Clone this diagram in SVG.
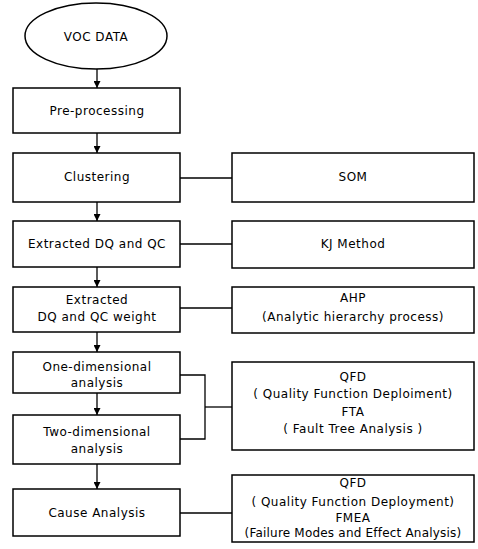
<svg xmlns="http://www.w3.org/2000/svg" width="478" height="549" viewBox="0 0 478 549">
<style>
.box{fill:#fff;stroke:#000;stroke-width:1.5}
.ln{fill:none;stroke:#000;stroke-width:1.3}
text{font-family:"DejaVu Sans","Liberation Sans",sans-serif;font-size:12px;fill:#000;text-anchor:middle;letter-spacing:0.5px}
text.tight{letter-spacing:0.2px}
</style>
<defs>
<marker id="ah" viewBox="0 0 10 10" refX="10" refY="5" markerWidth="7" markerHeight="7" orient="auto" markerUnits="userSpaceOnUse">
<path d="M0,0 L10,5 L0,10 Z" fill="#000"/>
</marker>
</defs>
<rect width="478" height="549" fill="#fff"/>
<g id="connectors">
<line class="ln" x1="97" y1="69" x2="97" y2="88" marker-end="url(#ah)"/>
<line class="ln" x1="97" y1="133" x2="97" y2="153" marker-end="url(#ah)"/>
<line class="ln" x1="97" y1="202" x2="97" y2="221" marker-end="url(#ah)"/>
<line class="ln" x1="97" y1="267" x2="97" y2="287" marker-end="url(#ah)"/>
<line class="ln" x1="97" y1="332" x2="97" y2="352" marker-end="url(#ah)"/>
<line class="ln" x1="97" y1="393" x2="97" y2="415" marker-end="url(#ah)"/>
<line class="ln" x1="97" y1="464" x2="97" y2="489" marker-end="url(#ah)"/>
<line class="ln" x1="180" y1="178" x2="232" y2="178"/>
<line class="ln" x1="180" y1="244" x2="232" y2="244"/>
<line class="ln" x1="180" y1="308" x2="232" y2="308"/>
<polyline class="ln" points="180,375 205,375 205,439 180,439"/>
<line class="ln" x1="205" y1="407" x2="232" y2="407"/>
<line class="ln" x1="180" y1="513" x2="232" y2="513"/>
</g>
<g id="voc">
<ellipse class="box" cx="96" cy="36" rx="71" ry="33"/>
<text x="96" y="41">VOC DATA</text>
</g>
<g id="preprocessing">
<rect class="box" x="13" y="88" width="167" height="45"/>
<text x="97" y="115">Pre-processing</text>
</g>
<g id="clustering">
<rect class="box" x="13" y="153" width="167" height="49"/>
<text x="97" y="181">Clustering</text>
</g>
<g id="extracted">
<rect class="box" x="13" y="221" width="167" height="46"/>
<text x="97" y="248">Extracted DQ and QC</text>
</g>
<g id="weight">
<rect class="box" x="13" y="287" width="167" height="45"/>
<text x="97" y="304">Extracted</text>
<text x="97" y="321">DQ and QC weight</text>
</g>
<g id="onedim">
<rect class="box" x="13" y="352" width="167" height="41"/>
<text x="97" y="371">One-dimensional</text>
<text x="97" y="387">analysis</text>
</g>
<g id="twodim">
<rect class="box" x="13" y="415" width="167" height="49"/>
<text x="97" y="436">Two-dimensional</text>
<text x="97" y="453">analysis</text>
</g>
<g id="cause">
<rect class="box" x="13" y="489" width="167" height="47"/>
<text x="97" y="517">Cause Analysis</text>
</g>
<g id="som">
<rect class="box" x="232" y="153" width="242" height="49"/>
<text x="353" y="181">SOM</text>
</g>
<g id="kj">
<rect class="box" x="232" y="221" width="242" height="47"/>
<text x="353" y="248">KJ Method</text>
</g>
<g id="ahp">
<rect class="box" x="232" y="287" width="242" height="46"/>
<text x="353" y="302">AHP</text>
<text x="353" y="321">(Analytic hierarchy process)</text>
</g>
<g id="qfdfta">
<rect class="box" x="232" y="362" width="242" height="88"/>
<text x="353" y="381">QFD</text>
<text x="353" y="398">( Quality Function Deploiment)</text>
<text x="353" y="416">FTA</text>
<text x="353" y="433">( Fault Tree Analysis )</text>
</g>
<g id="qfdfmea">
<rect class="box" x="232" y="475" width="242" height="67"/>
<text x="353" y="487">QFD</text>
<text x="353" y="506">( Quality Function Deployment)</text>
<text x="353" y="522">FMEA</text>
<text class="tight" x="353" y="537">(Failure Modes and Effect Analysis)</text>
</g>
</svg>
